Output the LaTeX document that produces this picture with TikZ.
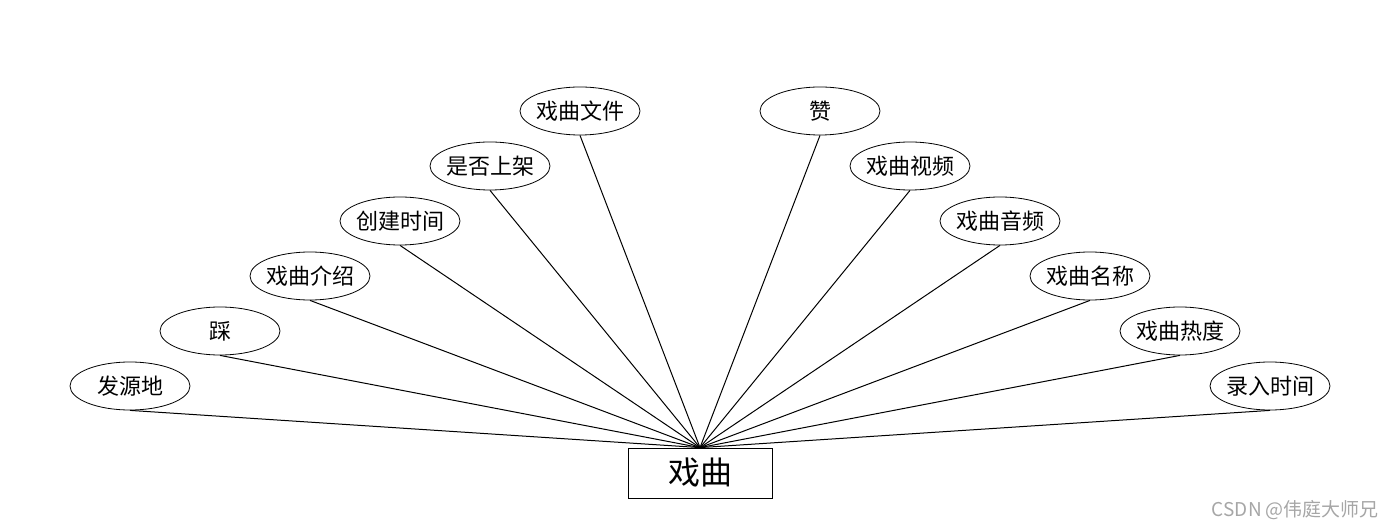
\documentclass[tikz,border=0pt]{standalone}
\usepackage{fontspec}
\newfontfamily\cjk{Noto Sans CJK SC}
\usepackage{tikz}
\usetikzlibrary{shapes.geometric, positioning}

\begin{document}
\begin{tikzpicture}[x=0.5pt, y=-0.5pt,
            attr/.style={ellipse, draw=black, fill=white, minimum width=60pt, minimum height=24pt,
            inner xsep=-1pt, inner ysep=0pt, font=\cjk\fontsize{11}{13}\selectfont},
            entity/.style={rectangle, draw=black, fill=white, minimum width=72pt, minimum height=25pt,
            inner sep=0pt, font=\cjk\fontsize{16}{18}\selectfont},
            link/.style={draw=black, line width=0.5pt},
            mark_style/.style={font=\cjk\fontsize{9.5}{11}\selectfont, text=gray!70}
        ]
            \useasboundingbox (0,0) rectangle (1400,528);

            % Entity
            \node[entity] (opera) at (700, 473) {戏曲};

            % Attributes (left side)
            \node[attr] (origin)  at (130, 386) {发源地};
            \node[attr] (dislike) at (220, 331) {踩};
            \node[attr] (intro)   at (310, 276) {戏曲介绍};
            \node[attr] (created) at (400, 221) {创建时间};
            \node[attr] (onsale)  at (490, 166) {是否上架};
            \node[attr] (file)    at (580, 111) {戏曲文件};

            % Attributes (right side)
            \node[attr] (like)    at (820, 111) {赞};
            \node[attr] (video)   at (910, 166) {戏曲视频};
            \node[attr] (audio)   at (1000, 221) {戏曲音频};
            \node[attr] (name)    at (1090, 276) {戏曲名称};
            \node[attr] (heat)    at (1180, 331) {戏曲热度};
            \node[attr] (entered) at (1270, 386) {录入时间};

            % Connections
            \foreach \a in {origin,dislike,intro,created,onsale,file,like,video,audio,name,heat,entered} {
                \draw[link] (\a.south) -- (opera.north);
            }

            % Watermark
            \node[mark_style, anchor=east] (mark) at (1386, 510) {CSDN @伟庭大师兄};

        \end{tikzpicture}
\end{document}
